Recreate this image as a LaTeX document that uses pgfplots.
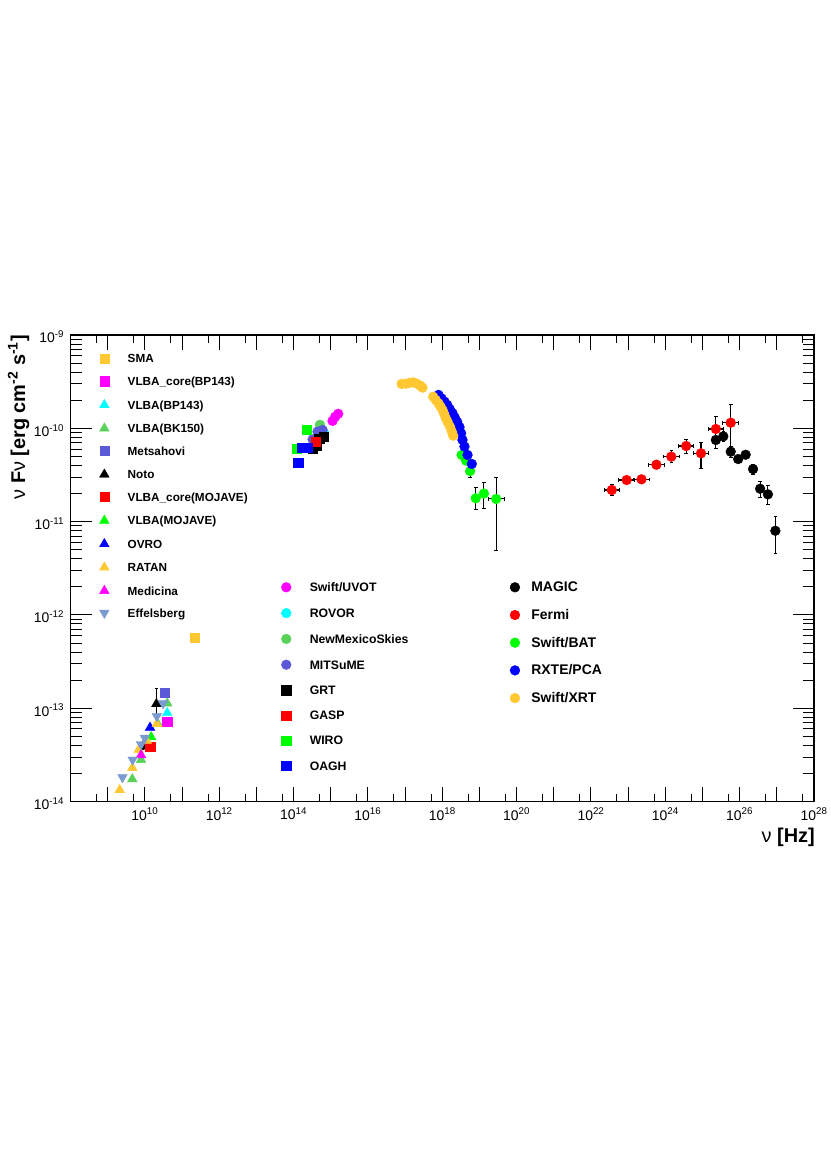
\documentclass[border=0pt]{standalone}
\usepackage{fontspec}
\setmainfont{Liberation Sans}
\usepackage{pgfplots}
\usepackage{pgfplotstable}
\pgfplotsset{compat=1.18}

\definecolor{corange}{HTML}{FFC832}
\definecolor{cslate}{HTML}{5A5AD8}
\definecolor{cgreen}{HTML}{5AD25A}
\definecolor{ceff}{HTML}{7A9AD0}
\definecolor{cmag}{HTML}{FF00FF}
\definecolor{ccyan}{HTML}{00FFFF}
\definecolor{cred}{HTML}{FF0000}
\definecolor{cgrn}{HTML}{00FF00}
\definecolor{cblue}{HTML}{0000FF}

\newcommand{\tl}[1]{10\textsuperscript{#1}}

\pgfplotsset{
  lg/.style n args={5}{
    legend style={
      at={(#1,#2)}, anchor=north west, draw=none, fill=none, inner sep=0pt, outer sep=0pt,
      font=\fontsize{#3}{#3}\selectfont\bfseries,
      row sep=#4,
      /tikz/every odd column/.append style={column sep=#5},
      nodes={inner sep=0pt, text height=8.6bp, text depth=0pt},
    },
  },
  psq/.style={only marks, mark=square*, mark size=4.6bp, color=#1, mark options={draw=none, fill=#1}},
  pci/.style={only marks, mark=*, mark size=4.9bp, color=#1, mark options={draw=none, fill=#1}},
  ptr/.style={only marks, mark=triangle*, mark size=5.6bp, color=#1, mark options={draw=none, fill=#1}},
  ptd/.style={only marks, mark=triangle*, mark size=5.6bp, color=#1, mark options={draw=none, fill=#1, rotate=180}},
  errs/.style={
    forget plot, only marks, mark=none,
    error bars/x dir=both, error bars/x explicit, error bars/y dir=both, error bars/y explicit,
    error bars/error bar style={black, line width=1.1bp},
    error bars/error mark options={rotate=90, black, mark size=1.8bp, line width=0.9bp},
  },
}

\pgfplotstableread{
x y xm xp ym yp
2.29e25 7.5e-11 0 0 1.39e-11 1.5e-11
3.63e25 8.2e-11 0 0 0.9e-11 1.0e-11
5.75e25 5.62e-11 0 0 0.7e-11 0.8e-11
9.12e25 4.68e-11 0 0 0.4e-11 0.45e-11
1.45e26 5.21e-11 0 0 0.45e-11 0.5e-11
2.29e26 3.66e-11 0 0 0.42e-11 0.48e-11
3.55e26 2.25e-11 0 0 0.44e-11 0.43e-11
5.75e26 1.96e-11 0 0 0.43e-11 0.47e-11
9.12e26 7.98e-12 0 0 3.45e-12 3.3e-12
}\magicdata

\pgfplotstableread{
x y xm xp ym yp
3.63e22 2.18e-11 1.39e22 2.26e22 0.29e-11 0.34e-11
9.12e22 2.79e-11 3.50e22 5.67e22 0.25e-11 0.27e-11
2.29e23 2.84e-11 0.878e23 1.42e23 0.25e-11 0.28e-11
5.75e23 4.07e-11 2.21e23 3.58e23 0.40e-11 0.45e-11
1.45e24 4.97e-11 0.556e24 0.90e24 0.69e-11 0.81e-11
3.63e24 6.46e-11 1.39e24 2.26e24 1.07e-11 1.22e-11
9.12e24 5.40e-11 3.50e24 5.67e24 1.67e-11 1.68e-11
2.29e25 9.84e-11 0.878e25 1.42e25 2.15e-11 3.5e-11
5.75e25 1.148e-10 2.21e25 3.58e25 0.513e-10 0.655e-10
}\fermidata

\pgfplotstableread{
x y xm xp ym yp
3.31e18 5.18e-11 0.3e18 0.3e18 0.4e-11 0.4e-11
4.37e18 4.50e-11 0.4e18 0.4e18 0.4e-11 0.4e-11
5.62e18 3.48e-11 0.5e18 0.5e18 0.5e-11 0.5e-11
7.94e18 1.78e-11 1.64e18 2.06e18 0.42e-11 0.55e-11
1.32e19 2.00e-11 0.27e19 0.34e19 0.60e-11 0.64e-11
2.82e19 1.75e-11 1.08e19 1.75e19 1.26e-11 1.24e-11
}\batdata

\pgfplotstableread{
x y xm xp ym yp
2.04e10 1.11e-13 0 0 0.3e-13 0.52e-13
8.7e9 3.9e-14 0 0 0.3e-14 0.3e-14
}\notodata

\begin{document}
\begin{tikzpicture}
\useasboundingbox (-70.5bp,-373.5bp) rectangle (760.5bp,801.5bp);

% radio points, and the frame
\begin{axis}[
  xmode=log, ymode=log, scale only axis, width=743.5bp, height=466.5bp,
  xmin=1e8, xmax=1e28, ymin=1e-14, ymax=1e-9, legend cell align=left,
  at={(0,0)}, anchor=south west,
  axis line style={black, line width=1.1bp},
  tick style={black, line width=1bp},
  major x tick style={/pgfplots/major tick length=15bp},
  minor x tick style={/pgfplots/minor tick length=8bp},
  major y tick style={/pgfplots/major tick length=21bp},
  minor y tick style={/pgfplots/minor tick length=11bp},
  xtick={1e8,1e9,1e10,1e11,1e12,1e13,1e14,1e15,1e16,1e17,1e18,1e19,1e20,1e21,1e22,1e23,1e24,1e25,1e26,1e27,1e28},
  xticklabels={,,\tl{10},,\tl{12},,\tl{14},,\tl{16},,\tl{18},,\tl{20},,\tl{22},,\tl{24},,\tl{26},,\tl{28}},
  minor xtick={5e8,5e9,5e10,5e11,5e12,5e13,5e14,5e15,5e16,5e17,5e18,5e19,5e20,5e21,5e22,5e23,5e24,5e25,5e26,5e27},
  ytick={1e-14,1e-13,1e-12,1e-11,1e-10,1e-9},
  yticklabels={\tl{-14},\tl{-13},\tl{-12},\tl{-11},\tl{-10},\tl{-9}},
  minor ytick={2e-14,3e-14,4e-14,5e-14,6e-14,7e-14,8e-14,9e-14,
    2e-13,3e-13,4e-13,5e-13,6e-13,7e-13,8e-13,9e-13,
    2e-12,3e-12,4e-12,5e-12,6e-12,7e-12,8e-12,9e-12,
    2e-11,3e-11,4e-11,5e-11,6e-11,7e-11,8e-11,9e-11,
    2e-10,3e-10,4e-10,5e-10,6e-10,7e-10,8e-10,9e-10},
  tick label style={font=\fontsize{14}{16}\selectfont},
  x tick label style={yshift=-3bp},
  y tick label style={yshift=-2bp, xshift=-3bp},
  xlabel={\normalfont\fontsize{20}{22}\selectfont ν \bfseries [Hz]},
  xlabel style={at={(rel axis cs:1,0)}, anchor=north east, inner sep=0pt, yshift=-26bp, xshift=1bp},
  ylabel={\fontsize{20}{22}\selectfont ν \bfseries F{\normalfont ν} [erg cm\textsuperscript{-2} s\textsuperscript{-1}]},
  ylabel style={at={(rel axis cs:0,1)}, anchor=east, inner sep=0pt, yshift=52bp},
  lg={0.0390}{0.9593}{11.8}{13.5bp}{18.5bp},
]
\addplot[psq=corange] coordinates {(2.14e11,5.7e-13)};
\addlegendentry{SMA}
\addplot[psq=cmag] coordinates {(4e10,7.2e-14)};
\addlegendentry{VLBA\_core(BP143)}
\addplot[ptr=ccyan] coordinates {(4e10,8.9e-14)};
\addlegendentry{VLBA(BP143)}
\addplot[ptr=cgreen] coordinates {(4e10,1.13e-13) (2.2e10,6.9e-14) (7.9e9,2.8e-14) (4.6e9,1.74e-14)};
\addlegendentry{VLBA(BK150)}
\addplot[psq=cslate] coordinates {(3.5e10,1.455e-13)};
\addlegendentry{Metsahovi}
\addplot[errs] table[x=x, y=y, x error minus=xm, x error plus=xp, y error minus=ym, y error plus=yp] {\notodata};
\addplot[ptr=black] table[x=x, y=y] {\notodata};
\addlegendentry{Noto}
\addplot[psq=cred] coordinates {(1.4e10,3.87e-14)};
\addlegendentry{VLBA\_core(MOJAVE)}
\addplot[ptr=cgrn] coordinates {(1.48e10,4.9e-14)};
\addlegendentry{VLBA(MOJAVE)}
\addplot[ptr=cblue] coordinates {(1.38e10,6.2e-14)};
\addlegendentry{OVRO}
\addplot[ptr=corange] coordinates {(2.1e10,6.8e-14) (1.12e10,4.5e-14) (6.8e9,3.6e-14) (4.6e9,2.3e-14) (2.1e9,1.33e-14)};
\addlegendentry{RATAN}
\addplot[ptr=cmag] coordinates {(7.9e9,3.15e-14)};
\addlegendentry{Medicina}
\addplot[ptd=ceff] coordinates {(3.1e10,1.13e-13) (2.1e10,8.2e-14) (1e10,4.8e-14) (7.9e9,4.1e-14) (4.7e9,2.8e-14) (2.5e9,1.82e-14)};
\addlegendentry{Effelsberg}
\end{axis}

% optical points
\begin{axis}[
  xmode=log, ymode=log, scale only axis, width=743.5bp, height=466.5bp,
  xmin=1e8, xmax=1e28, ymin=1e-14, ymax=1e-9, legend cell align=left,
  at={(0,0)}, anchor=south west,
  hide axis, lg={0.2836}{0.4697}{12.3}{16bp}{18.6bp},
]
\addplot[pci=cmag] coordinates {(1.12e15,1.2e-10) (1.32e15,1.33e-10) (1.59e15,1.43e-10)};
\addlegendentry{Swift/UVOT}
\addplot[pci=ccyan] coordinates {(6.7e14,8.83e-11) (5.45e14,8.5e-11)};
\addlegendentry{ROVOR}
\addplot[pci=cgreen] coordinates {(5.12e14,1.09e-10) (4.43e14,9.2e-11)};
\addlegendentry{NewMexicoSkies}
\addplot[pci=cslate] coordinates {(3.25e14,7.6e-11) (4.43e14,9.2e-11) (6.04e14,9.6e-11)};
\addlegendentry{MITSuME}
\addplot[psq=black] coordinates {(6.43e14,8.15e-11) (4.91e14,7.8e-11) (4.17e14,6.6e-11) (3.25e14,6.0e-11)};
\addlegendentry{GRT}
\addplot[psq=cred] coordinates {(4e14,7.15e-11)};
\addlegendentry{GASP}
\addplot[psq=cgrn] coordinates {(2.24e14,9.6e-11) (1.21e14,6.05e-11)};
\addlegendentry{WIRO}
\addplot[psq=cblue] coordinates {(1.68e14,6.15e-11) (2.39e14,6.15e-11) (1.34e14,4.28e-11)};
\addlegendentry{OAGH}
\end{axis}

% X-ray and gamma-ray points
\begin{axis}[
  xmode=log, ymode=log, scale only axis, width=743.5bp, height=466.5bp,
  xmin=1e8, xmax=1e28, ymin=1e-14, ymax=1e-9, legend cell align=left,
  at={(0,0)}, anchor=south west,
  hide axis, lg={0.5912}{0.4697}{14}{17.9bp}{11.5bp},
]
\addplot[errs] table[x=x, y=y, x error minus=xm, x error plus=xp, y error minus=ym, y error plus=yp] {\magicdata};
\addplot[pci=black] table[x=x, y=y] {\magicdata};
\addlegendentry{MAGIC}
\addplot[errs] table[x=x, y=y, x error minus=xm, x error plus=xp, y error minus=ym, y error plus=yp] {\fermidata};
\addplot[pci=cred] table[x=x, y=y] {\fermidata};
\addlegendentry{Fermi}
\addplot[errs] table[x=x, y=y, x error minus=xm, x error plus=xp, y error minus=ym, y error plus=yp] {\batdata};
\addplot[pci=cgrn] table[x=x, y=y] {\batdata};
\addlegendentry{Swift/BAT}
\addplot[pci=cblue] coordinates {(7.93e17,2.28e-10) (9.55e17,2.09e-10) (1.15e18,1.93e-10) (1.36e18,1.78e-10)
  (1.60e18,1.60e-10) (1.89e18,1.45e-10) (2.18e18,1.30e-10) (2.52e18,1.17e-10) (2.91e18,1.03e-10)
  (3.22e18,8.83e-11) (3.50e18,7.5e-11) (3.96e18,6.37e-11) (4.78e18,5.18e-11) (6.24e18,4.15e-11)};
\addlegendentry{RXTE/PCA}
\addplot[pci=corange] coordinates {(8.04e16,2.99e-10) (1.05e17,3.01e-10) (1.34e17,3.08e-10) (1.65e17,3.11e-10)
  (2.07e17,3.01e-10) (2.55e17,2.87e-10) (2.94e17,2.73e-10)
  (5.70e17,2.18e-10) (6.71e17,2.01e-10) (7.93e17,1.85e-10) (8.97e17,1.71e-10) (1.02e18,1.57e-10)
  (1.12e18,1.43e-10) (1.25e18,1.28e-10) (1.41e18,1.16e-10) (1.63e18,1.03e-10) (1.81e18,9.2e-11) (1.97e18,8.34e-11)};
\addlegendentry{Swift/XRT}
\end{axis}
\end{tikzpicture}
\end{document}
